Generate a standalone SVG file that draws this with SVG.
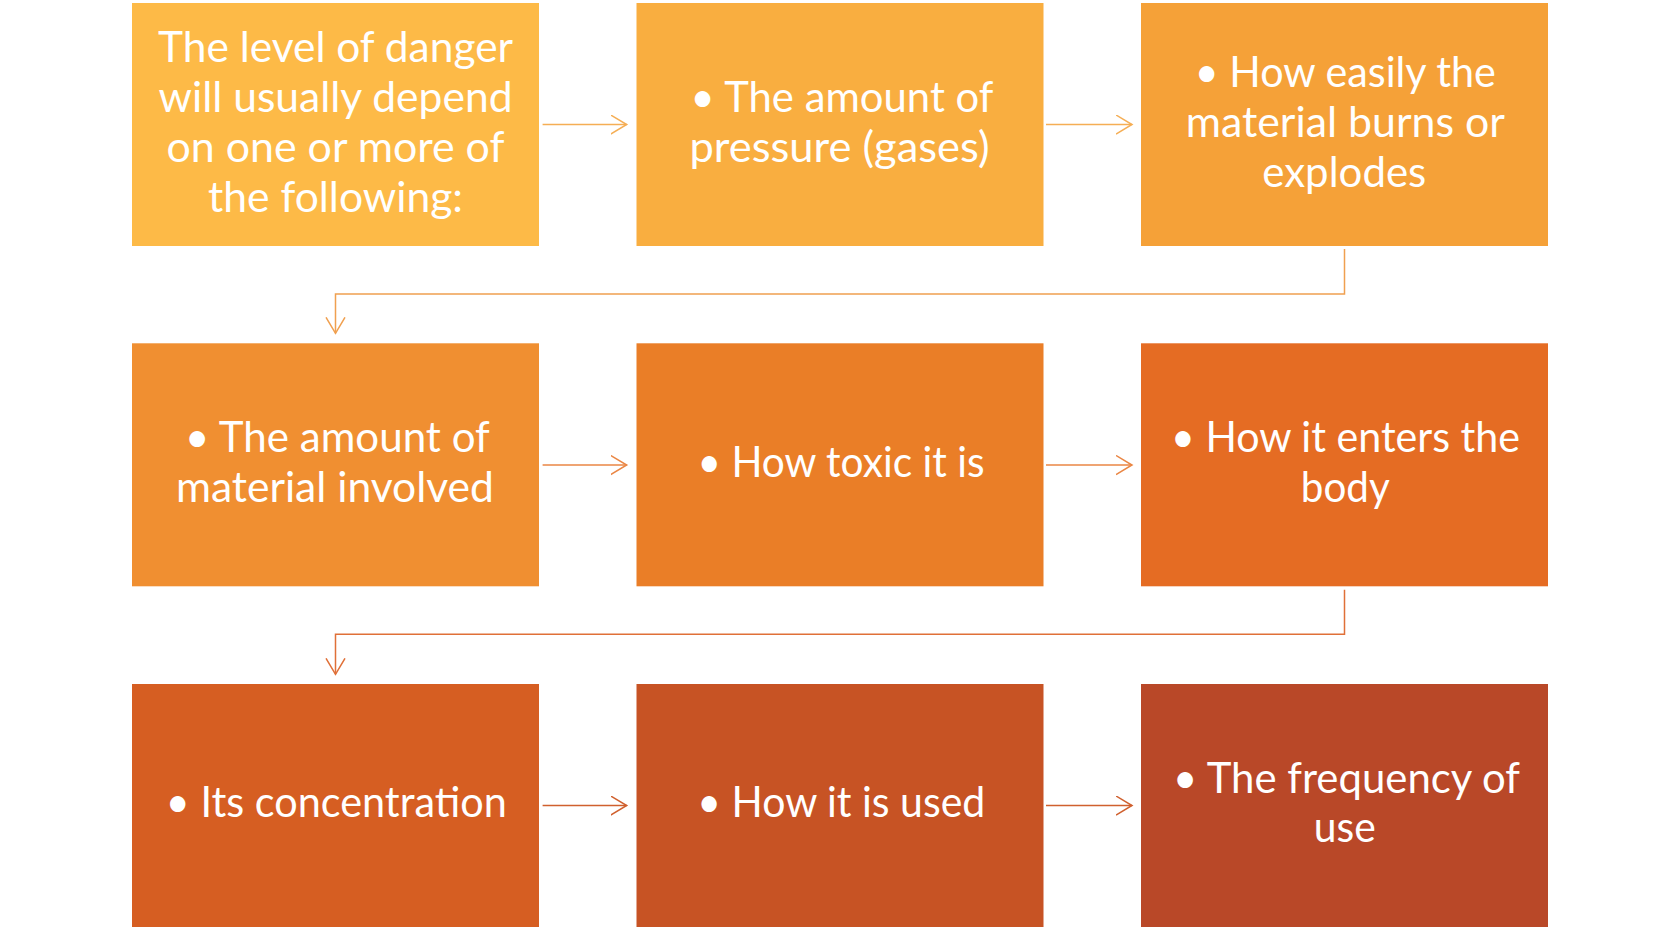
<svg xmlns="http://www.w3.org/2000/svg" width="1680" height="930" viewBox="0 0 1680 930">
<style>
.box text{font-family:Lato,"Open Sans","Liberation Sans",sans-serif;font-size:42px;fill:#FFFFFF;text-anchor:middle}
.conn path{fill:none;stroke-width:1.5}
</style>
<defs>
<marker id="a1" markerUnits="userSpaceOnUse" markerWidth="20" markerHeight="22" refX="16" refY="10" orient="auto"><path d="M0,0.5 L16,10 L0,19.5" fill="none" stroke="#F5AE55" stroke-width="1.5"/></marker>
<marker id="a2" markerUnits="userSpaceOnUse" markerWidth="20" markerHeight="22" refX="16" refY="10" orient="auto"><path d="M0,0.5 L16,10 L0,19.5" fill="none" stroke="#F0A050" stroke-width="1.5"/></marker>
<marker id="a3" markerUnits="userSpaceOnUse" markerWidth="20" markerHeight="22" refX="16" refY="10" orient="auto"><path d="M0,0.5 L16,10 L0,19.5" fill="none" stroke="#EA8644" stroke-width="1.5"/></marker>
<marker id="a4" markerUnits="userSpaceOnUse" markerWidth="20" markerHeight="22" refX="16" refY="10" orient="auto"><path d="M0,0.5 L16,10 L0,19.5" fill="none" stroke="#E07038" stroke-width="1.5"/></marker>
<marker id="a5" markerUnits="userSpaceOnUse" markerWidth="20" markerHeight="22" refX="16" refY="10" orient="auto"><path d="M0,0.5 L16,10 L0,19.5" fill="none" stroke="#D0602E" stroke-width="1.5"/></marker>
</defs>
<rect width="1680" height="930" fill="#FFFFFF"/>
<g id="connectors" class="conn">
<path d="M542.6,124.5 H626.7" stroke="#F5AE55" marker-end="url(#a1)"/>
<path d="M1046,124.5 H1132" stroke="#F5AE55" marker-end="url(#a1)"/>
<path d="M1344.5,249 V294 H335.5 V333.3" stroke="#F0A050" marker-end="url(#a2)"/>
<path d="M542.6,465 H626.7" stroke="#EA8644" marker-end="url(#a3)"/>
<path d="M1046,465 H1132" stroke="#EA8644" marker-end="url(#a3)"/>
<path d="M1344.5,589.7 V634.3 H335.5 V674.3" stroke="#E07038" marker-end="url(#a4)"/>
<path d="M542.6,805.5 H626.7" stroke="#D0602E" marker-end="url(#a5)"/>
<path d="M1046,805.5 H1132" stroke="#D0602E" marker-end="url(#a5)"/>
</g>
<g id="n1" class="box">
<rect x="132" y="3" width="407" height="243" fill="#FDBA47"/>
<text x="335.5" y="61.7" textLength="355" lengthAdjust="spacingAndGlyphs">The level of danger</text>
<text x="335.5" y="111.7" textLength="354" lengthAdjust="spacingAndGlyphs">will usually depend</text>
<text x="335.5" y="162.3" textLength="338" lengthAdjust="spacingAndGlyphs">on one or more of</text>
<text x="335.5" y="212.3" textLength="255" lengthAdjust="spacingAndGlyphs">the following:</text>
</g>
<g id="n2" class="box">
<rect x="636.5" y="3" width="407" height="243" fill="#F9AE40"/>
<text x="842" y="111.7" textLength="303" lengthAdjust="spacingAndGlyphs">• The amount of</text>
<text x="839.5" y="162.3" textLength="300" lengthAdjust="spacingAndGlyphs">pressure (gases)</text>
</g>
<g id="n3" class="box">
<rect x="1141" y="3" width="407" height="243" fill="#F5A138"/>
<text x="1345.3" y="87.3" textLength="301" lengthAdjust="spacingAndGlyphs">• How easily the</text>
<text x="1345.3" y="136.7" textLength="319" lengthAdjust="spacingAndGlyphs">material burns or</text>
<text x="1344.3" y="186.7" textLength="164" lengthAdjust="spacingAndGlyphs">explodes</text>
</g>
<g id="n4" class="box">
<rect x="132" y="343.3" width="407" height="243" fill="#F08F31"/>
<text x="337.4" y="452.3" textLength="305" lengthAdjust="spacingAndGlyphs">• The amount of</text>
<text x="334.9" y="501.7" textLength="318" lengthAdjust="spacingAndGlyphs">material involved</text>
</g>
<g id="n5" class="box">
<rect x="636.5" y="343.3" width="407" height="243" fill="#EA7E27"/>
<text x="841" y="477" textLength="287" lengthAdjust="spacingAndGlyphs">• How toxic it is</text>
</g>
<g id="n6" class="box">
<rect x="1141" y="343.3" width="407" height="243" fill="#E56C23"/>
<text x="1345.5" y="452.3" textLength="349" lengthAdjust="spacingAndGlyphs">• How it enters the</text>
<text x="1345.3" y="501.7" textLength="89" lengthAdjust="spacingAndGlyphs">body</text>
</g>
<g id="n7" class="box">
<rect x="132" y="684" width="407" height="243" fill="#D65E22"/>
<text x="336.3" y="817.3" textLength="341" lengthAdjust="spacingAndGlyphs">• Its concentration</text>
</g>
<g id="n8" class="box">
<rect x="636.5" y="684" width="407" height="243" fill="#C75324"/>
<text x="841.3" y="817.3" textLength="288" lengthAdjust="spacingAndGlyphs">• How it is used</text>
</g>
<g id="n9" class="box">
<rect x="1141" y="684" width="407" height="243" fill="#B94828"/>
<text x="1346.5" y="792.7" textLength="347" lengthAdjust="spacingAndGlyphs">• The frequency of</text>
<text x="1344.8" y="842.3" textLength="62" lengthAdjust="spacingAndGlyphs">use</text>
</g>
</svg>
